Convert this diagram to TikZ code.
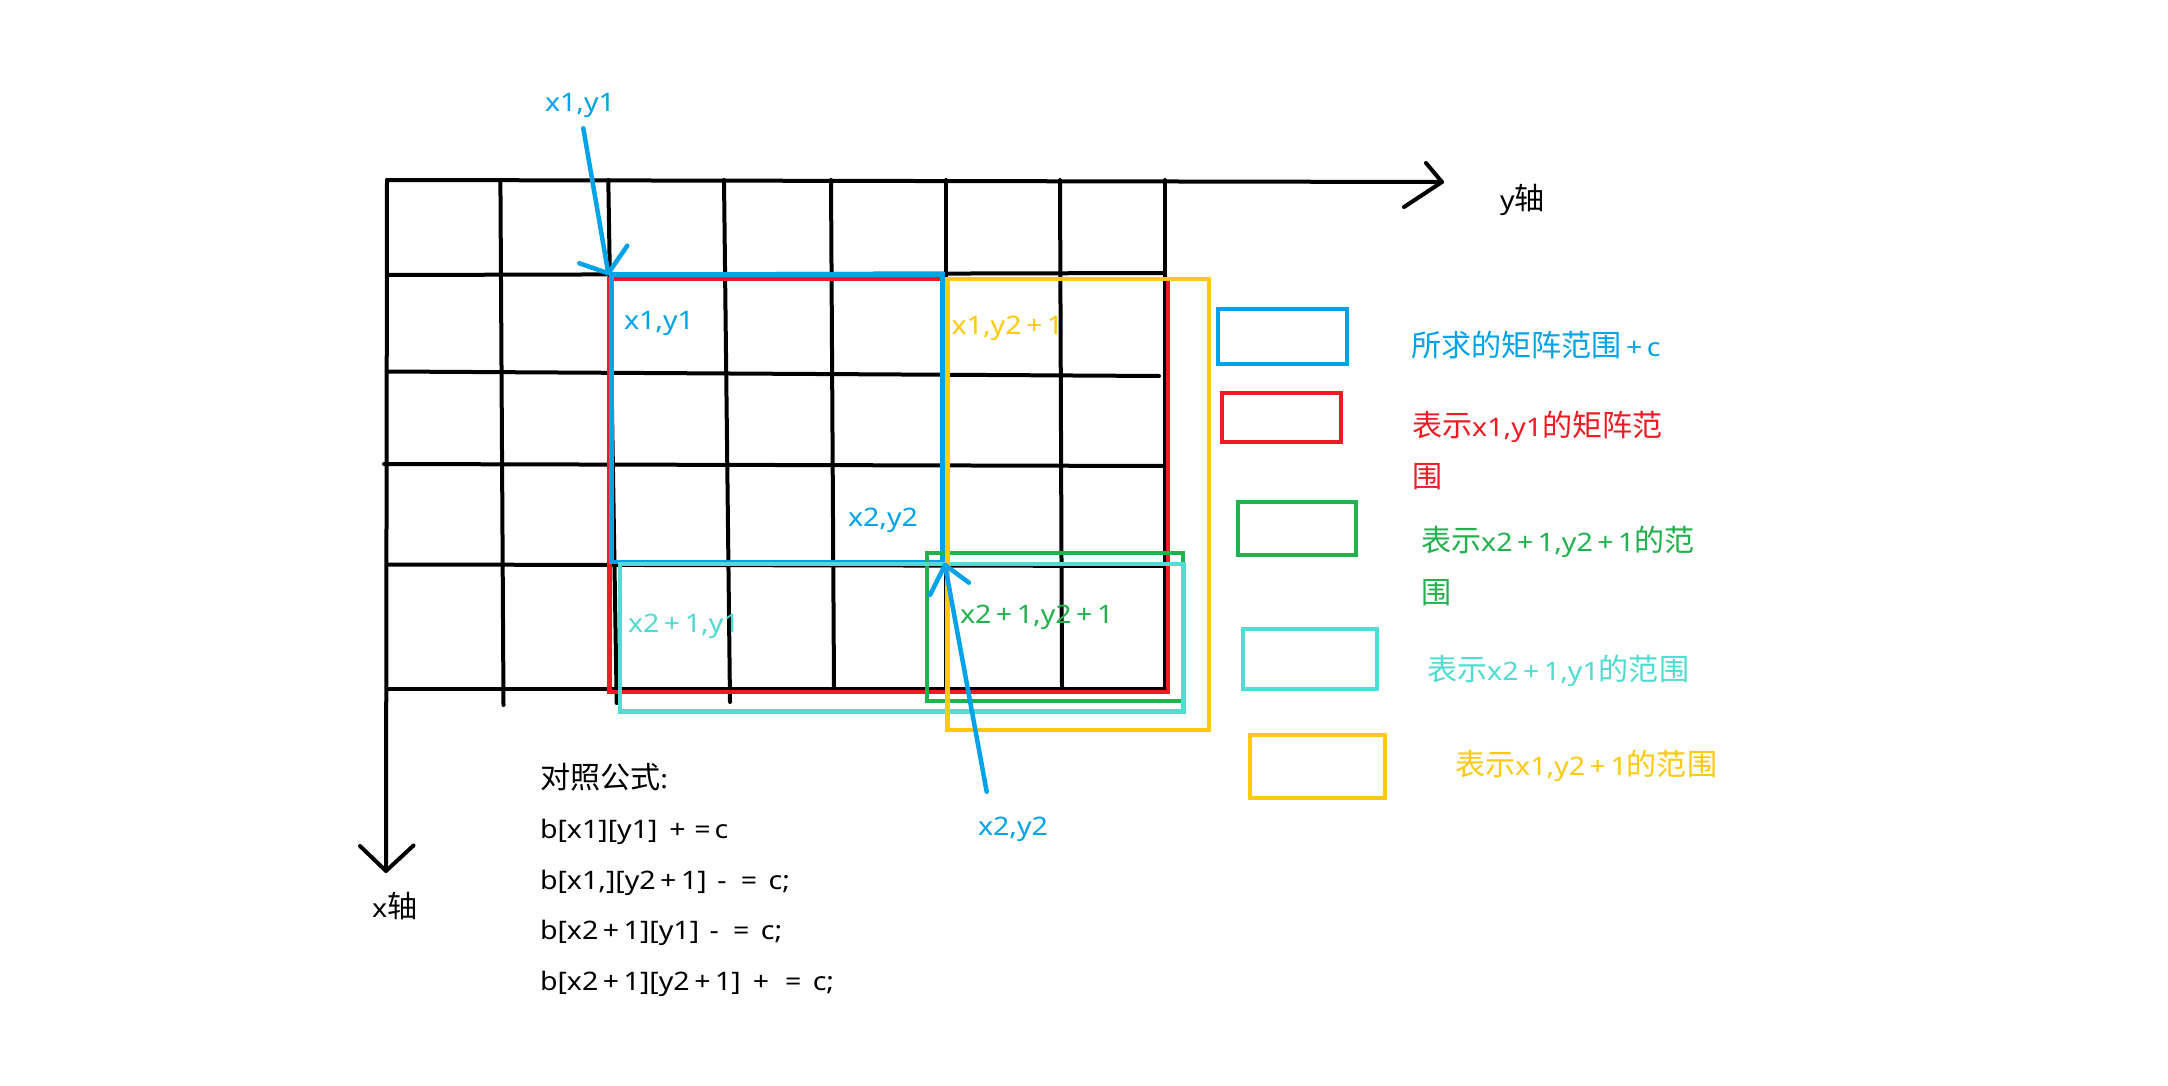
\documentclass[tikz,border=0pt]{standalone}
\usepackage{fontspec}
\setmainfont{Noto Sans}[FakeStretch=1.12]
\newfontfamily\cjk{Noto Sans CJK SC}[Scale=1.18]
\newcommand{\Pl}{\kern4.5pt+\kern4.5pt}
\newcommand{\Eq}{\kern4pt=\kern4pt}
\newcommand{\Mi}{\kern3pt-\kern3pt}
\definecolor{cBlue}{HTML}{00A2E8}
\definecolor{cRed}{HTML}{ED1C24}
\definecolor{cGreen}{HTML}{22B14C}
\definecolor{cCyan}{HTML}{50DCD2}
\definecolor{cYellow}{HTML}{FFC90E}
\begin{document}
\begin{tikzpicture}[x=1pt,y=-1pt,
  gridline/.style={line width=4pt, black, line cap=round},
  rangebox/.style={line width=4.5pt, line join=miter},
  pointer/.style={line width=4.5pt, cBlue, line cap=round, line join=round},
  lbl/.style={inner sep=0pt, outer sep=0pt, anchor=base west, font=\fontsize{25.5}{30}\selectfont}]
\useasboundingbox (0,0) rectangle (2168,1086);
\fill[white] (0,0) rectangle (2168,1086);

% axes
\coordinate (origin) at (387,180);
\coordinate (yTip) at (1442,182);
\coordinate (xTip) at (386,871);
\draw[gridline] (origin) -- (yTip);
\draw[gridline, line join=round] (1426,163) -- (yTip) -- (1404,207);
\draw[gridline] (origin) -- (xTip);
\draw[gridline, line join=round] (360,846) -- (xTip) -- (413.5,845.5);

% grid verticals
\draw[gridline] (500.4,180) -- (503.5,705);
\draw[gridline] (608.3,180) -- (616.7,703);
\draw[gridline] (724,180) -- (730,702);
\draw[gridline] (831,180) -- (834,689);
\draw[gridline] (946,180) -- (946,689);
\draw[gridline] (1060,180) -- (1062,689);
\draw[gridline] (1165,180) -- (1165,689);
% grid horizontals
\draw[gridline] (387,275) -- (1165,273);
\draw[gridline] (387,371.5) -- (1159,376);
\draw[gridline] (384,464) -- (1168,466);
\draw[gridline] (387,564.5) -- (1165,566);
\draw[gridline] (387,689) -- (1165,689);

% ranges
\draw[rangebox, cRed] (609.5,279) rectangle (1168,692);
\draw[rangebox, cBlue] (611.5,274.5) rectangle (942.5,562);
\draw[rangebox, cGreen] (927,553) rectangle (1183,701);
\draw[rangebox, cCyan] (620,564) rectangle (1183.5,711.5);
\draw[rangebox, cYellow] (947.5,279) rectangle (1209,730);

% labels in grid
\node[lbl, cBlue] (pA) at (545,112) {x1,y1};
\node[lbl, cBlue] (pB) at (624,329) {x1,y1};
\node[lbl, cYellow] (pC) at (951.6,334) {x1,y2\Pl1};
\node[lbl, cBlue] (pD) at (848,526) {x2,y2};
\node[lbl, cCyan] (pE) at (628,632) {x2\Pl1,y1};
\node[lbl, cGreen] (pF) at (960,623) {x2\Pl1,y2\Pl1};
\node[lbl, cBlue] (pG) at (978,835) {x2,y2};

% pointers
\coordinate (aTail) at (583.3,128.3);
\coordinate (aTip) at (608.3,273.3);
\draw[pointer] (aTail) -- (aTip);
\draw[pointer] (579.3,263.3) -- (aTip) -- (627.3,245.7);
\coordinate (bTail) at (986.7,791.7);
\coordinate (bTip) at (945,565);
\draw[pointer] (bTail) -- (bTip);
\draw[pointer] (930,595) -- (bTip) -- (969,582.7);

% axis labels
\node[lbl] (yLbl) at (1500,209.5) {y{\cjk 轴}};
\node[lbl] (xLbl) at (372,917) {x{\cjk 轴}};

% legend boxes
\draw[rangebox, cBlue] (1218,309) rectangle (1347,364);
\draw[rangebox, cRed] (1222,393) rectangle (1341,442);
\draw[rangebox, cGreen] (1238,502) rectangle (1356,555);
\draw[rangebox, cCyan] (1243,629) rectangle (1377,689);
\draw[rangebox, cYellow] (1250,735) rectangle (1385,798);

% legend texts
\node[lbl, cBlue] (t1) at (1411,356) {{\cjk 所求的矩阵范围}\Pl c};
\node[lbl, cRed] (t2) at (1412,436) {{\cjk 表示}x1,y1{\cjk 的矩阵范}};
\node[lbl, cRed] (t2b) at (1412,487) {{\cjk 围}};
\node[lbl, cGreen] (t3) at (1421,551) {{\cjk 表示}x2\Pl1,y2\Pl1{\cjk 的范}};
\node[lbl, cGreen] (t3b) at (1421,603) {{\cjk 围}};
\node[lbl, cCyan] (t4) at (1427,680) {{\cjk 表示}x2\Pl1,y1{\cjk 的范围}};
\node[lbl, cYellow] (t5) at (1455,775.5) {{\cjk 表示}x1,y2\Pl1{\cjk 的范围}};

% formulas
\node[lbl] (f0) at (540,788.5) {{\cjk 对照公式}:};
\node[lbl] (f1) at (540,838) {b[x1][y1] \Pl\Eq c};
\node[lbl] (f2) at (540,889) {b[x1,][y2\Pl1] \Mi\ \Eq\ c;};
\node[lbl] (f3) at (540,939.5) {b[x2\Pl1][y1] \Mi\ \Eq\ c;};
\node[lbl] (f4) at (540,990) {b[x2\Pl1][y2\Pl1] \Pl\ \Eq\ c;};
\end{tikzpicture}
\end{document}
